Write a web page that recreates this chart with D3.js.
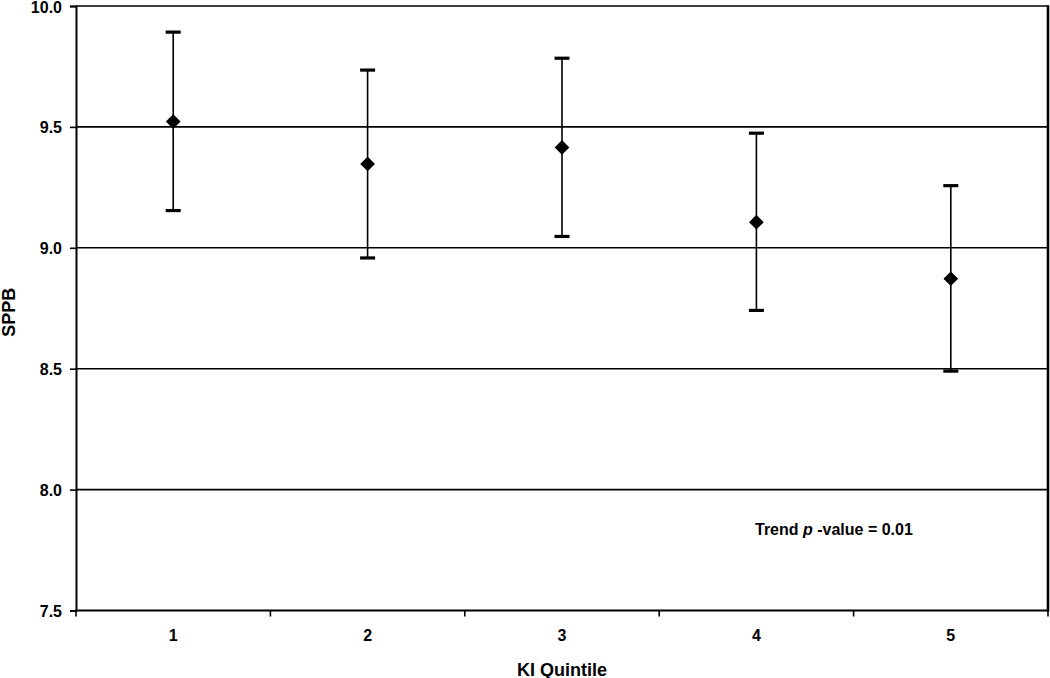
<!DOCTYPE html>
<html>
<head>
<meta charset="utf-8">
<script src="https://cdn.jsdelivr.net/npm/d3@7"></script>
<style>
  html, body { margin: 0; padding: 0; background: #fff; }
  svg { display: block; font-family: Arial, "Liberation Sans", sans-serif; }
</style>
</head>
<body>
<svg id="chart" width="1050" height="678"></svg>
<script>
const categories = ["1", "2", "3", "4", "5"];
const means = [9.522, 9.347, 9.415, 9.106, 8.872];
const upper = [9.892, 9.735, 9.784, 9.474, 9.257];
const lower = [9.154, 8.958, 9.047, 8.741, 8.490];
const yTicks = [7.5, 8.0, 8.5, 9.0, 9.5, 10.0];
const xTitle = "KI Quintile";
const yTitle = "SPPB";

(function () {
const svg = d3.select("#chart");
const pLeft = 76, pRight = 1048, pTop = 6, pBottom = 610.5;

const x = d3.scaleBand().domain(categories).range([pLeft, pRight]).padding(0);
const y = d3.scaleLinear().domain([7.5, 10]).range([pBottom, pTop]);

// gridlines
svg.append("g").selectAll("line").data(yTicks.filter(d => d > 7.5)).join("line")
  .attr("x1", pLeft).attr("x2", pRight)
  .attr("y1", d => y(d)).attr("y2", d => y(d))
  .attr("stroke", "#000").attr("stroke-width", 1.6);

// right border
svg.append("line").attr("x1", pRight).attr("x2", pRight)
  .attr("y1", pTop - 0.8).attr("y2", pBottom + 1)
  .attr("stroke", "#000").attr("stroke-width", 2.6);

// y axis
const yAxis = d3.axisLeft(y).tickValues(yTicks).tickFormat(d3.format(".1f")).tickSize(6).tickPadding(8);
const gy = svg.append("g").attr("transform", `translate(${pLeft},0)`).call(yAxis);
gy.select(".domain").attr("stroke", "#000").attr("stroke-width", 2);
gy.selectAll(".tick line").attr("stroke", "#000").attr("stroke-width", 1.6);
gy.selectAll(".tick text").attr("font-size", 16).attr("font-weight", "bold").attr("fill", "#000")
  .attr("dy", "0.38em")
  .attr("font-family", "Arial, 'Liberation Sans', sans-serif");

// x axis line with ticks at band boundaries
const gx = svg.append("g");
gx.append("line").attr("x1", pLeft - 1).attr("x2", pRight + 1)
  .attr("y1", pBottom).attr("y2", pBottom).attr("stroke", "#000").attr("stroke-width", 2);
const boundaries = categories.map(c => x(c)).concat([pRight]);
gx.selectAll("line.tk").data(boundaries).join("line").attr("class", "tk")
  .attr("x1", d => d).attr("x2", d => d).attr("y1", pBottom).attr("y2", pBottom + 6)
  .attr("stroke", "#000").attr("stroke-width", 1.6);
gx.selectAll("text").data(categories).join("text")
  .attr("x", d => x(d) + x.bandwidth() / 2).attr("y", 641)
  .attr("text-anchor", "middle").attr("font-size", 16).attr("font-weight", "bold")
  .text(d => d);

// error bars
const cx = i => x(categories[i]) + x.bandwidth() / 2;
const eb = svg.append("g");
categories.forEach((c, i) => {
  eb.append("line").attr("x1", cx(i)).attr("x2", cx(i))
    .attr("y1", y(upper[i])).attr("y2", y(lower[i]))
    .attr("stroke", "#000").attr("stroke-width", 1.6);
  [upper[i], lower[i]].forEach(v => {
    eb.append("line").attr("x1", cx(i) - 7.5).attr("x2", cx(i) + 7.5)
      .attr("y1", y(v)).attr("y2", y(v))
      .attr("stroke", "#000").attr("stroke-width", 3.2);
  });
});

// diamonds
const sym = d3.symbol().type(d3.symbolSquare).size(108);
svg.append("g").selectAll("path").data(means).join("path")
  .attr("d", sym)
  .attr("transform", (d, i) => `translate(${cx(i)},${y(d)}) rotate(45)`)
  .attr("fill", "#000");

// axis titles
svg.append("text").attr("x", (pLeft + pRight) / 2).attr("y", 675.5)
  .attr("text-anchor", "middle").attr("font-size", 18).attr("font-weight", "bold").text(xTitle);
svg.append("text").attr("transform", `translate(15,${(pTop + pBottom) / 2 + 4}) rotate(-90)`)
  .attr("text-anchor", "middle").attr("font-size", 18).attr("font-weight", "bold").text(yTitle);

// annotation
const ann = svg.append("text").attr("x", 755).attr("y", 535)
  .attr("font-size", 16).attr("font-weight", "bold");
ann.append("tspan").text("Trend ");
ann.append("tspan").attr("font-style", "italic").text("p");
ann.append("tspan").text(" -value = 0.01");
})();
</script>
</body>
</html>
